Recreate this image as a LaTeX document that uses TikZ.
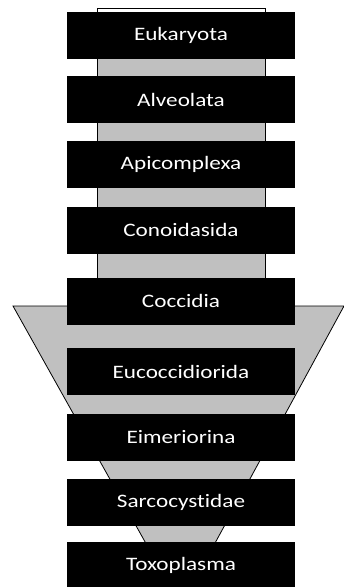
\documentclass[tikz,border=0pt]{standalone}
\usepackage{fontspec}
\setmainfont{Carlito}[Ligatures=NoCommon]
\definecolor{funnelgray}{HTML}{C0C0C0}
\tikzset{
  taxbox/.style={rectangle, fill=black, draw=none, minimum width=228pt, minimum height=47pt, inner sep=0pt,
    text=white, font=\fontsize{19}{20}\selectfont},
  grayshape/.style={fill=funnelgray, draw=black, line width=0.8pt}
}
\newcommand{\wide}[1]{\scalebox{1.22}[1]{#1}}
\begin{document}
\begin{tikzpicture}[x=1pt,y=-1pt]
\useasboundingbox (0,0) rectangle (344,587);
% upper gray column
\draw[grayshape] (97,8) rectangle (265,300);
\fill[white] (97.5,8.5) rectangle (264.5,13);
% funnel
\draw[grayshape] (13,306) -- (344,306) -- (189.5,590) -- (172,590) -- cycle;
% boxes
\node[taxbox] (n1) at (181,35) {\wide{Eukaryota}};
\node[taxbox] (n2) at (181,99.5) {\wide{Alveolata}};
\node[taxbox] (n3) at (181,164.5) {\wide{Apicomplexa}};
\node[taxbox] (n4) at (181,230) {\wide{Conoidasida}};
\node[taxbox] (n5) at (181,301) {\wide{Coccidia}};
\node[taxbox] (n6) at (181,371.5) {\wide{Eucoccidiorida}};
\node[taxbox] (n7) at (181,437) {\wide{Eimeriorina}};
\node[taxbox] (n8) at (181,502.5) {\wide{Sarcocystidae}};
\node[taxbox] (n9) at (181,565.5) {\wide{Toxoplasma}};
\end{tikzpicture}
\end{document}
